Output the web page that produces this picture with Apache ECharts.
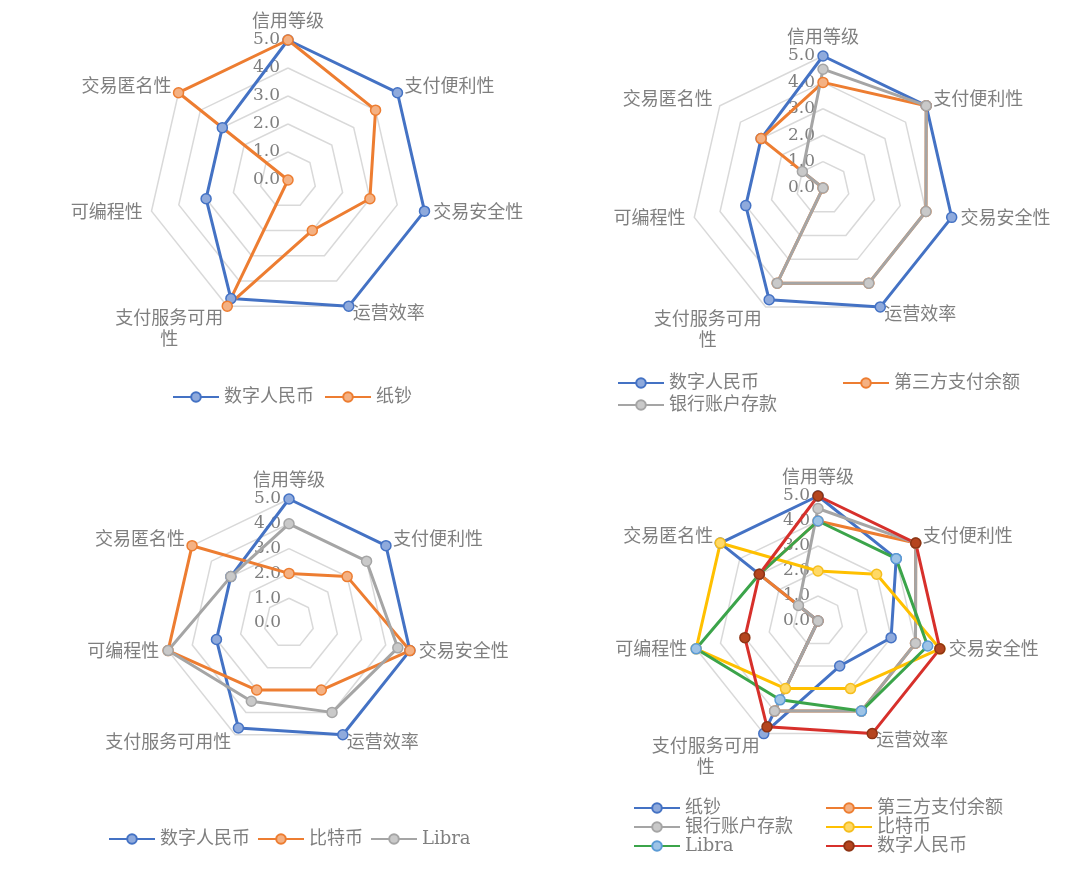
<!DOCTYPE html>
<html>
<head>
<meta charset="utf-8">
<script src="https://cdn.jsdelivr.net/npm/echarts@6/dist/echarts.min.js"></script>
<style>
  html, body { margin: 0; padding: 0; background: #fff; }
  #chart { width: 1080px; height: 891px; }
</style>
</head>
<body>
<div id="chart"></div>
<script>
// indicators, clockwise from the top
const indicators = ['信用等级', '支付便利性', '交易安全性', '运营效率', '支付服务可用性', '可编程性', '交易匿名性'];
const scoreMin = 0;
const scoreMax = 5;

// scores per payment instrument (same order as indicators)
const dcep = [5, 5, 5, 5, 4.7, 3, 3];          // 数字人民币
const cash = [5, 4, 3, 2, 5, 0, 5];            // 纸钞
const thirdParty = [4, 5, 4, 4, 4, 0, 3];      // 第三方支付余额
const bankDeposit = [4.5, 5, 4, 4, 4, 0, 1];   // 银行账户存款
const bitcoin = [2, 3, 5, 3, 3, 5, 5];         // 比特币
const libra = [4, 4, 4.5, 4, 3.5, 5, 3];       // Libra

// echarts lays radar axes out counter-clockwise, so walk the list backwards after the first
const order = indicators.map((_, i) => (i === 0 ? 0 : indicators.length - i));
const reorder = arr => order.map(i => arr[i]);

const TEXT = '#7f7f7f';
const FONT = "'DejaVu Serif', 'Noto Sans CJK SC', sans-serif";

const styles = {
  blue:   { line: '#4472C4', fill: '#8FAADC', border: '#4472C4' },
  orange: { line: '#ED7D31', fill: '#F4B183', border: '#ED7D31' },
  gray:   { line: '#A5A5A5', fill: '#C9C9C9', border: '#A5A5A5' },
  yellow: { line: '#FFC000', fill: '#FFD966', border: '#F5BE1E' },
  green:  { line: '#3BA44A', fill: '#9DC3E6', border: '#5B9BD5' },
  red:    { line: '#D7302B', fill: '#B5451F', border: '#8E3414' }
};

// one entry per small chart
const charts = [
  { center: [288, 180], radius: 140, wrap: true,
    series: [['数字人民币', dcep, 'blue'], ['纸钞', cash, 'orange']],
    legends: [{ left: 167, top: 383, orient: 'horizontal', itemGap: 10, items: ['数字人民币', '纸钞'] }] },
  { center: [823, 188], radius: 132, wrap: true,
    series: [['数字人民币', dcep, 'blue'], ['第三方支付余额', thirdParty, 'orange'], ['银行账户存款', bankDeposit, 'gray']],
    legends: [{ left: 612, top: 369, orient: 'vertical', itemGap: 4, items: ['数字人民币', '银行账户存款'] },
              { left: 837, top: 369, orient: 'vertical', itemGap: 4, items: ['第三方支付余额'] }] },
  { center: [289, 623], radius: 124, wrap: false,
    series: [['数字人民币', dcep, 'blue'], ['比特币', bitcoin, 'orange'], ['Libra', libra, 'gray']],
    legends: [{ left: 103, top: 825, orient: 'horizontal', itemGap: 7, items: ['数字人民币', '比特币', 'Libra'] }] },
  { center: [818, 621], radius: 125, wrap: true,
    series: [['纸钞', cash, 'blue'], ['第三方支付余额', thirdParty, 'orange'], ['银行账户存款', bankDeposit, 'gray'],
             ['比特币', bitcoin, 'yellow'], ['Libra', libra, 'green'], ['数字人民币', dcep, 'red']],
    legends: [{ left: 628, top: 794, orient: 'vertical', itemGap: 1, items: ['纸钞', '银行账户存款', 'Libra'] },
              { left: 820, top: 794, orient: 'vertical', itemGap: 1, items: ['第三方支付余额', '比特币', '数字人民币'] }] }
];

const radar = [];
const series = [];
const legend = [];

charts.forEach((c, ci) => {
  radar.push({
    center: c.center,
    radius: c.radius,
    startAngle: 90,
    shape: 'polygon',
    splitNumber: 5,
    indicator: reorder(indicators).map((name, i) => ({
      name: name, min: scoreMin, max: scoreMax,
      axisLabel: { show: i === 0 }
    })),
    axisName: {
      color: TEXT, fontSize: 18, fontFamily: FONT,
      formatter: name => (c.wrap && name === '支付服务可用性')
        ? '{w1|支付服务可用}\n{w2|性}'
        : name,
      rich: {
        w1: { align: 'center', color: TEXT, fontSize: 18, fontFamily: FONT, padding: [32, 0, 0, 0] },
        w2: { align: 'center', color: TEXT, fontSize: 18, fontFamily: FONT, padding: [3, 0, 0, 0] }
      }
    },
    nameGap: 9,
    axisLine: { show: false },
    axisTick: { show: false },
    splitArea: { show: false },
    splitLine: { lineStyle: { color: '#d9d9d9', width: 1.5 } },
    axisLabel: {
      show: false, color: TEXT, fontSize: 17, fontFamily: FONT,
      formatter: v => v.toFixed(1)
    }
  });

  c.series.forEach(([name, values, key]) => {
    const s = styles[key];
    const id = name + '#' + ci;
    series.push({
      type: 'radar',
      radarIndex: ci,
      name: id,
      symbol: 'circle',
      symbolSize: 10,
      lineStyle: { color: s.line, width: 3 },
      itemStyle: { color: s.fill, borderColor: s.border, borderWidth: 1.5 },
      data: [{ name: id, value: reorder(values) }]
    });
    // empty line series: only supplies the line + marker legend icon
    series.push({
      type: 'line',
      name: id + 'L',
      data: [],
      symbol: 'circle',
      lineStyle: { color: s.line, width: 3 },
      itemStyle: { color: s.fill, borderColor: s.border, borderWidth: 1.5 }
    });
  });

  c.legends.forEach(l => {
    legend.push({
      left: l.left, top: l.top, orient: l.orient, itemGap: l.itemGap,
      itemWidth: 46, itemHeight: 12,
      data: l.items.map(n => n + '#' + ci + 'L'),
      formatter: n => n.split('#')[0],
      textStyle: { color: TEXT, fontSize: 18, fontFamily: FONT },
      selectedMode: false
    });
  });
});

const chart = echarts.init(document.getElementById('chart'));
chart.setOption({
  backgroundColor: '#fff',
  animation: false,
  grid: { show: false, left: 0, top: 0, width: 1, height: 1 },
  xAxis: { show: false, type: 'value' },
  yAxis: { show: false, type: 'value' },
  radar: radar,
  legend: legend,
  series: series
});
</script>
</body>
</html>
